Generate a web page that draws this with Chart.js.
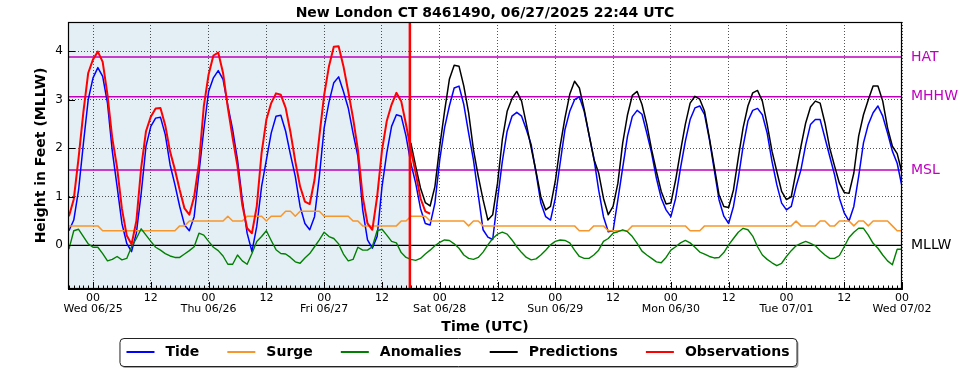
<!DOCTYPE html>
<html>
<head>
<meta charset="utf-8">
<title>New London CT 8461490</title>
<script src="https://cdn.jsdelivr.net/npm/chart.js@4.4.1/dist/chart.umd.min.js"></script>
<style>
  html, body { margin: 0; padding: 0; background: #fff; }
  #chart { display: block; }
</style>
</head>
<body>
<canvas id="chart" width="969" height="370"></canvas>
<script>
// hours are counted from Wed 06/25 00:00 UTC, one value per hour
const startHour = -5;
const predStartHour = 66;
const nowHour = 65.8;

const tideFt = [
  0.30, 0.52, 1.14, 2.10, 3.00, 3.45, 3.66, 3.48, 2.93, 1.94, 1.21, 0.45, 0.04, -0.13, 0.25, 1.07,
  2.04, 2.45, 2.62, 2.64, 2.28, 1.66, 1.25, 0.80, 0.42, 0.30, 0.59, 1.49, 2.38, 3.17, 3.45, 3.60,
  3.42, 2.87, 2.38, 1.76, 0.94, 0.25, -0.13, 0.39, 1.21, 1.76, 2.31, 2.66, 2.68, 2.35, 1.87, 1.42,
  0.80, 0.45, 0.32, 0.59, 1.42, 2.42, 2.95, 3.35, 3.47, 3.17, 2.83, 2.31, 1.83, 0.73, 0.11, -0.06,
  0.18, 1.20, 1.90, 2.45, 2.69, 2.66, 2.25, 1.69, 1.28, 0.76, 0.45, 0.42, 0.87, 1.76, 2.42, 2.87,
  3.24, 3.28, 2.90, 2.31, 1.76, 1.04, 0.32, 0.17, 0.12, 0.94, 1.73, 2.35, 2.66, 2.74, 2.66, 2.38,
  2.07, 1.49, 0.87, 0.59, 0.52, 0.97, 1.69, 2.38, 2.76, 3.00, 3.06, 2.76, 2.28, 1.80, 1.14, 0.59,
  0.28, 0.30, 0.94, 1.60, 2.25, 2.65, 2.78, 2.70, 2.31, 1.90, 1.38, 0.97, 0.73, 0.59, 0.97, 1.59,
  2.14, 2.59, 2.83, 2.87, 2.69, 2.18, 1.56, 0.94, 0.60, 0.45, 0.80, 1.38, 2.04, 2.56, 2.78, 2.82,
  2.69, 2.31, 1.73, 1.25, 0.87, 0.73, 0.80, 1.21, 1.55, 2.07, 2.49, 2.59, 2.59, 2.21, 1.83, 1.45,
  0.97, 0.67, 0.50, 0.80, 1.42, 2.11, 2.49, 2.73, 2.87, 2.66, 2.31, 1.94, 1.69, 1.21
];

const surgeFt = [
  0.4, 0.4, 0.4, 0.4, 0.4, 0.4, 0.4, 0.3, 0.3, 0.3, 0.3, 0.3, 0.3, 0.3, 0.3, 0.3,
  0.3, 0.3, 0.3, 0.3, 0.3, 0.3, 0.3, 0.4, 0.4, 0.5, 0.5, 0.5, 0.5, 0.5, 0.5, 0.5,
  0.5, 0.6, 0.5, 0.5, 0.5, 0.6, 0.6, 0.6, 0.6, 0.5, 0.6, 0.6, 0.6, 0.7, 0.7, 0.6,
  0.7, 0.7, 0.7, 0.7, 0.7, 0.6, 0.6, 0.6, 0.6, 0.6, 0.6, 0.5, 0.5, 0.4, 0.4, 0.4,
  0.4, 0.4, 0.4, 0.4, 0.4, 0.5, 0.5, 0.6, 0.6, 0.6, 0.6, 0.5, 0.5, 0.5, 0.5, 0.5,
  0.5, 0.5, 0.5, 0.4, 0.5, 0.5, 0.4, 0.4, 0.4, 0.4, 0.4, 0.4, 0.4, 0.4, 0.4, 0.4,
  0.4, 0.4, 0.4, 0.4, 0.4, 0.4, 0.4, 0.4, 0.4, 0.4, 0.3, 0.3, 0.3, 0.4, 0.4, 0.4,
  0.3, 0.3, 0.3, 0.3, 0.3, 0.4, 0.4, 0.4, 0.4, 0.4, 0.4, 0.4, 0.4, 0.4, 0.4, 0.4,
  0.4, 0.3, 0.3, 0.3, 0.4, 0.4, 0.4, 0.4, 0.4, 0.4, 0.4, 0.4, 0.4, 0.4, 0.4, 0.4,
  0.4, 0.4, 0.4, 0.4, 0.4, 0.4, 0.4, 0.5, 0.4, 0.4, 0.4, 0.4, 0.5, 0.5, 0.4, 0.4,
  0.5, 0.5, 0.5, 0.4, 0.5, 0.5, 0.4, 0.5, 0.5, 0.5, 0.5, 0.4, 0.3, 0.3
];

const anomalyFt = [
  -0.08, 0.30, 0.33, 0.18, 0.03, -0.04, -0.04, -0.17, -0.32, -0.29, -0.23, -0.30, -0.27, -0.03, 0.14, 0.34,
  0.21, 0.08, -0.04, -0.10, -0.17, -0.22, -0.25, -0.25, -0.18, -0.11, -0.03, 0.25, 0.21, 0.08, -0.04, -0.11,
  -0.22, -0.39, -0.39, -0.20, -0.32, -0.39, -0.17, 0.08, 0.18, 0.30, 0.10, -0.09, -0.17, -0.18, -0.25, -0.34,
  -0.37, -0.26, -0.17, -0.03, 0.11, 0.27, 0.18, 0.14, 0.03, -0.18, -0.32, -0.29, -0.04, -0.10, -0.10, -0.03,
  0.30, 0.33, 0.21, 0.08, 0.05, -0.15, -0.25, -0.29, -0.31, -0.27, -0.18, -0.10, -0.01, 0.06, 0.11, 0.10,
  0.03, -0.06, -0.20, -0.27, -0.29, -0.25, -0.14, 0.01, 0.14, 0.23, 0.27, 0.23, 0.11, -0.03, -0.15, -0.25,
  -0.30, -0.28, -0.20, -0.10, 0.01, 0.08, 0.11, 0.10, 0.05, -0.10, -0.23, -0.27, -0.27, -0.20, -0.10, 0.08,
  0.14, 0.25, 0.28, 0.32, 0.28, 0.18, 0.04, -0.12, -0.20, -0.27, -0.34, -0.36, -0.25, -0.10, -0.03, 0.05,
  0.10, 0.05, -0.04, -0.14, -0.18, -0.23, -0.26, -0.25, -0.15, 0.01, 0.14, 0.27, 0.35, 0.32, 0.19, -0.03,
  -0.20, -0.29, -0.36, -0.42, -0.37, -0.23, -0.11, -0.01, 0.04, 0.08, 0.04, -0.01, -0.11, -0.20, -0.27, -0.27,
  -0.21, -0.03, 0.16, 0.27, 0.35, 0.35, 0.21, 0.04, -0.06, -0.20, -0.32, -0.40, -0.08, -0.08
];

const predictionFt = [
  2.11, 1.63, 1.18, 0.88, 0.81, 1.21, 2.04, 2.76, 3.42, 3.71, 3.69, 3.28, 2.73, 1.97, 1.42, 0.94,
  0.52, 0.63, 1.28, 2.18, 2.76, 3.02, 3.17, 2.97, 2.49, 2.00, 1.52, 1.00, 0.73, 0.80, 1.32, 2.04,
  2.62, 3.11, 3.38, 3.24, 2.80, 2.28, 1.78, 1.49, 0.97, 0.63, 0.80, 1.28, 2.11, 2.69, 3.09, 3.17,
  2.90, 2.49, 1.97, 1.52, 1.11, 0.85, 0.87, 1.35, 1.94, 2.49, 2.93, 3.07, 3.01, 2.76, 2.21, 1.63,
  1.04, 0.80, 0.78, 1.14, 1.80, 2.42, 2.87, 3.14, 3.19, 2.97, 2.49, 1.94, 1.52, 1.11, 0.94, 1.00,
  1.52, 2.03, 2.52, 2.85, 2.97, 2.93, 2.52, 2.00, 1.63, 1.28, 1.09, 1.07, 1.49, 2.25, 2.69, 3.00,
  3.28, 3.28, 2.97, 2.42, 2.04, 1.89, 1.49
];

const observedFt = [
  0.60, 0.95, 1.80, 2.75, 3.55, 3.83, 3.99, 3.78, 3.10, 2.20, 1.60, 0.75, 0.20, 0.02, 0.50, 1.60,
  2.35, 2.65, 2.82, 2.83, 2.47, 1.93, 1.56, 1.14, 0.76, 0.63, 1.00, 1.69, 2.86, 3.52, 3.91, 3.97,
  3.55, 2.83, 2.21, 1.63, 0.83, 0.35, 0.25, 0.80, 1.90, 2.59, 2.93, 3.13, 3.10, 2.83, 2.33, 1.73,
  1.21, 0.90, 0.85, 1.35, 2.25, 3.10, 3.69, 4.09, 4.10, 3.69, 3.17, 2.62, 1.97, 1.00, 0.45, 0.32,
  1.00, 1.95, 2.56, 2.90, 3.14, 2.97, 2.49, 1.97, 1.49, 0.97, 0.70, 0.65
];

const tickHours = [0, 12, 24, 36, 48, 60, 72, 84, 96, 108, 120, 132, 144, 156, 168];
const dayLabels = ['Wed 06/25', 'Thu 06/26', 'Fri 06/27', 'Sat 06/28', 'Sun 06/29', 'Mon 06/30', 'Tue 07/01', 'Wed 07/02'];
const yTicks = [0, 1, 2, 3, 4];

const datumNames = ['HAT', 'MHHW', 'MSL', 'MLLW'];
const datumFt = [3.88, 3.06, 1.55, 0];

const MAGENTA = '#bf00bf';
const FONT = "'DejaVu Sans', sans-serif";

function toPoints(vals, h0) {
  return vals.map((v, i) => ({ x: h0 + i, y: v }));
}

const extras = {
  id: 'extras',
  beforeDraw(chart) {
    const { ctx, chartArea: a, scales: { x } } = chart;
    ctx.save();
    ctx.fillStyle = '#ffffff';
    ctx.fillRect(0, 0, chart.width, chart.height);
    // observed period shading
    ctx.fillStyle = '#e4eef5';
    ctx.fillRect(a.left, a.top, x.getPixelForValue(nowHour) - a.left, a.bottom - a.top);
    ctx.restore();
  },
  beforeDatasetsDraw(chart) {
    const { ctx, chartArea: a, scales: { y } } = chart;
    ctx.save();
    datumFt.forEach((v, i) => {
      const py = y.getPixelForValue(v);
      ctx.strokeStyle = datumNames[i] === 'MLLW' ? '#000' : MAGENTA;
      ctx.lineWidth = datumNames[i] === 'MLLW' ? 1.2 : 1.4;
      ctx.beginPath();
      ctx.moveTo(a.left, py);
      ctx.lineTo(a.right, py);
      ctx.stroke();
    });
    ctx.restore();
  },
  afterDatasetsDraw(chart) {
    const { ctx, chartArea: a, scales: { x } } = chart;
    ctx.save();
    const nx = x.getPixelForValue(nowHour);
    ctx.strokeStyle = '#ff0000';
    ctx.lineWidth = 2.5;
    ctx.beginPath();
    ctx.moveTo(nx, a.top);
    ctx.lineTo(nx, a.bottom);
    ctx.stroke();
    ctx.restore();
  },
  afterDraw(chart) {
    const { ctx, chartArea: a, scales: { x, y } } = chart;
    ctx.save();

    // inward tick marks
    ctx.strokeStyle = '#000';
    ctx.lineWidth = 1;
    for (let h = Math.ceil(x.min); h <= x.max; h++) {
      const px = Math.round(x.getPixelForValue(h)) + 0.5;
      const len = h % 12 === 0 ? 7 : 3.5;
      ctx.beginPath();
      ctx.moveTo(px, a.bottom);
      ctx.lineTo(px, a.bottom - len);
      ctx.stroke();
    }
    yTicks.forEach(v => {
      const py = Math.round(y.getPixelForValue(v)) + 0.5;
      ctx.beginPath();
      ctx.moveTo(a.left, py);
      ctx.lineTo(a.left + 7, py);
      ctx.stroke();
    });

    // frame
    ctx.lineWidth = 1.2;
    ctx.strokeRect(Math.round(a.left) + 0.5, Math.round(a.top) + 0.5,
      Math.round(a.right - a.left) - 1, Math.round(a.bottom - a.top) - 1);

    // datum names on the right
    ctx.font = '14px ' + FONT;
    ctx.textAlign = 'left';
    ctx.textBaseline = 'middle';
    datumFt.forEach((v, i) => {
      ctx.fillStyle = datumNames[i] === 'MLLW' ? '#000' : MAGENTA;
      ctx.fillText(datumNames[i], a.right + 9, y.getPixelForValue(v));
    });

    // titles
    ctx.fillStyle = '#000';
    ctx.font = 'bold 14px ' + FONT;
    ctx.textAlign = 'center';
    ctx.fillText('New London CT 8461490, 06/27/2025 22:44 UTC', (a.left + a.right) / 2, 13);
    ctx.fillText('Time (UTC)', (a.left + a.right) / 2, 327.5);
    ctx.save();
    ctx.translate(41, (a.top + a.bottom) / 2);
    ctx.rotate(-Math.PI / 2);
    ctx.fillText('Height in Feet (MLLW)', 0, 0);
    ctx.restore();

    // legend
    const sets = chart.data.datasets;
    const handle = 28, pad = 11, gap = 28;
    ctx.font = 'bold 14px ' + FONT;
    const widths = sets.map(d => ctx.measureText(d.label).width);
    const total = widths.reduce((s, w) => s + handle + pad + w, 0) + gap * (sets.length - 1);
    const cx = 458, ly = 352;
    let lx = cx - total / 2;
    const bx = lx - 7, bw = total + 14, by = 338, bh = 28;
    ctx.fillStyle = 'rgba(0,0,0,0.35)';
    roundRect(ctx, bx + 2, by + 2, bw, bh, 4);
    ctx.fill();
    ctx.fillStyle = '#fff';
    ctx.strokeStyle = '#222';
    ctx.lineWidth = 1;
    roundRect(ctx, bx + 0.5, by + 0.5, bw, bh, 4);
    ctx.fill();
    ctx.stroke();
    ctx.textAlign = 'left';
    sets.forEach((d, i) => {
      ctx.strokeStyle = d.borderColor;
      ctx.lineWidth = 2;
      ctx.beginPath();
      ctx.moveTo(lx, ly);
      ctx.lineTo(lx + handle, ly);
      ctx.stroke();
      ctx.fillStyle = '#000';
      ctx.fillText(d.label, lx + handle + pad, ly);
      lx += handle + pad + widths[i] + gap;
    });
    ctx.restore();
  }
};

function roundRect(ctx, x, y, w, h, r) {
  ctx.beginPath();
  ctx.moveTo(x + r, y);
  ctx.lineTo(x + w - r, y);
  ctx.quadraticCurveTo(x + w, y, x + w, y + r);
  ctx.lineTo(x + w, y + h - r);
  ctx.quadraticCurveTo(x + w, y + h, x + w - r, y + h);
  ctx.lineTo(x + r, y + h);
  ctx.quadraticCurveTo(x, y + h, x, y + h - r);
  ctx.lineTo(x, y + r);
  ctx.quadraticCurveTo(x, y, x + r, y);
  ctx.closePath();
}

Chart.defaults.font.family = FONT;
Chart.defaults.color = '#000';

new Chart(document.getElementById('chart'), {
  type: 'line',
  data: {
    datasets: [
      { label: 'Tide', data: toPoints(tideFt, startHour), borderColor: '#0000ff', borderWidth: 1.5, order: 5 },
      { label: 'Surge', data: toPoints(surgeFt, startHour), borderColor: '#f7962b', borderWidth: 1.5, order: 4 },
      { label: 'Anomalies', data: toPoints(anomalyFt, startHour), borderColor: '#008000', borderWidth: 1.4, order: 3 },
      { label: 'Predictions', data: toPoints(predictionFt, predStartHour), borderColor: '#000000', borderWidth: 1.5, order: 2 },
      { label: 'Observations', data: toPoints(observedFt, startHour), borderColor: '#ff0000', borderWidth: 2, order: 1 }
    ]
  },
  options: {
    responsive: false,
    animation: false,
    devicePixelRatio: 1,
    elements: {
      point: { radius: 0, hoverRadius: 0 },
      line: { tension: 0, fill: false, borderJoinStyle: 'round' }
    },
    layout: { padding: { left: 0, top: 22, right: 67, bottom: 0 } },
    plugins: {
      legend: { display: false },
      title: { display: false },
      tooltip: { enabled: false }
    },
    scales: {
      x: {
        type: 'linear',
        min: -5.2,
        max: 168,
        afterFit(scale) { scale.height = 81; },
        afterBuildTicks(scale) { scale.ticks = tickHours.map(v => ({ value: v })); },
        ticks: {
          autoSkip: false,
          maxRotation: 0,
          padding: 3,
          font: { size: 11, lineHeight: 1.05 },
          callback: v => (v % 24 === 0 ? ['00', dayLabels[v / 24]] : '12')
        },
        grid: { color: 'rgba(0,0,0,0.75)', lineWidth: 0.9, drawTicks: false },
        border: { display: true, color: '#000', width: 1, dash: [1, 2] }
      },
      y: {
        min: -0.9,
        max: 4.6,
        afterFit(scale) { scale.width = 68; },
        afterBuildTicks(scale) { scale.ticks = yTicks.map(v => ({ value: v })); },
        ticks: {
          padding: 5,
          font: { size: 12 },
          callback: v => String(v)
        },
        grid: { color: 'rgba(0,0,0,0.75)', lineWidth: 0.9, drawTicks: false },
        border: { display: true, color: '#000', width: 1, dash: [1, 2] }
      }
    }
  },
  plugins: [extras]
});
</script>
</body>
</html>
